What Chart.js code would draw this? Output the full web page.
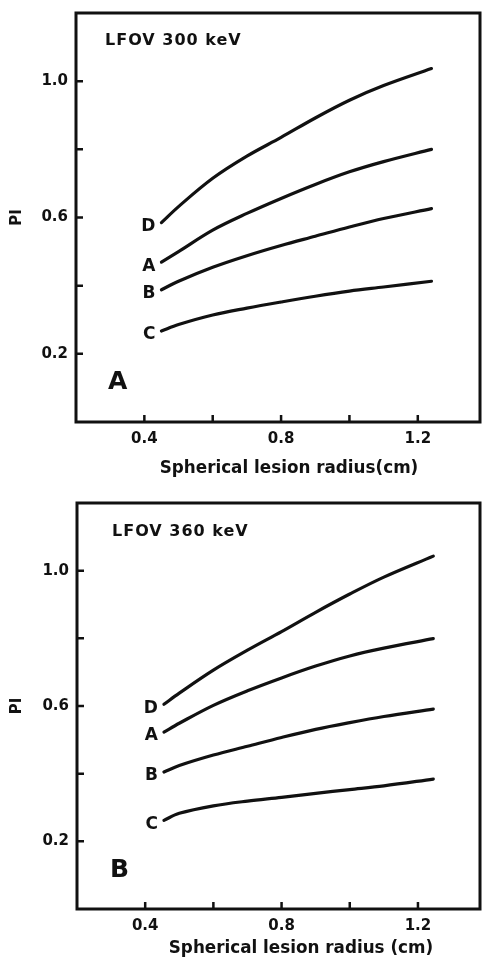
<!DOCTYPE html>
<html>
<head>
<meta charset="utf-8">
<script src="https://cdn.jsdelivr.net/npm/chart.js@4.4.0/dist/chart.umd.min.js"></script>
<style>
  html, body { margin: 0; padding: 0; background: #fff; overflow: hidden; }
  .panel { position: absolute; left: 0; width: 482px; }
  #top { top: 0; height: 481px; }
  #bottom { top: 481px; height: 482px; }
</style>
</head>
<body>
<div class="panel" id="top"><canvas id="chartA" width="482" height="481"></canvas></div>
<div class="panel" id="bottom"><canvas id="chartB" width="482" height="482"></canvas></div>
<script>
// panel A: LFOV 300 keV
const radius300 = [0.45, 0.5, 0.6, 0.7, 0.8, 0.9, 1.0, 1.1, 1.24];
const curveD300 = [0.585, 0.632, 0.715, 0.780, 0.835, 0.892, 0.944, 0.987, 1.037];
const curveA300 = [0.469, 0.500, 0.563, 0.612, 0.656, 0.697, 0.734, 0.764, 0.800];
const curveB300 = [0.388, 0.413, 0.454, 0.488, 0.518, 0.545, 0.572, 0.597, 0.626];
const curveC300 = [0.267, 0.286, 0.314, 0.334, 0.352, 0.369, 0.384, 0.396, 0.413];

// panel B: LFOV 360 keV
const radius360 = [0.455, 0.5, 0.6, 0.7, 0.8, 0.9, 1.0, 1.1, 1.245];
const curveD360 = [0.605, 0.638, 0.706, 0.765, 0.820, 0.877, 0.931, 0.981, 1.043];
const curveA360 = [0.523, 0.549, 0.602, 0.645, 0.683, 0.718, 0.748, 0.771, 0.799];
const curveB360 = [0.405, 0.424, 0.455, 0.481, 0.507, 0.531, 0.551, 0.569, 0.591];
const curveC360 = [0.262, 0.283, 0.305, 0.319, 0.330, 0.342, 0.353, 0.364, 0.384];

const curveNames = ["D", "A", "B", "C"];
const xTickValues = [0.4, 0.6, 0.8, 1.0, 1.2];
const xTickLabels = ["0.4", "0.8", "1.2"];
const yTickValues = [0.2, 0.4, 0.6, 0.8, 1.0];
const yTickLabels = ["0.2", "0.6", "1.0"];

const FONT = '"DejaVu Sans", sans-serif';
const INK = "#111";

const framePlugin = {
    id: "frame",
    afterDraw(chart, args, o) {
        const { ctx, chartArea: a, scales: { x, y } } = chart;
        ctx.save();
        ctx.strokeStyle = INK;
        ctx.lineWidth = 3;
        ctx.strokeRect(a.left, a.top, a.right - a.left, a.bottom - a.top);

        // inward tick marks
        ctx.lineWidth = 2.5;
        ctx.beginPath();
        x.ticks.forEach(t => {
            const px = x.getPixelForValue(t.value);
            ctx.moveTo(px, a.bottom);
            ctx.lineTo(px, a.bottom - 7);
        });
        y.ticks.forEach(t => {
            const py = y.getPixelForValue(t.value);
            ctx.moveTo(a.left, py);
            ctx.lineTo(a.left + 7, py);
        });
        ctx.stroke();

        ctx.fillStyle = INK;
        ctx.textBaseline = "middle";

        ctx.font = "bold 16px " + FONT;
        ctx.textAlign = "left";
        ctx.letterSpacing = "1px";
        ctx.fillText(o.title, a.left + o.titleDx, a.top + o.titleDy);
        ctx.letterSpacing = "0px";

        ctx.font = "bold 25px " + FONT;
        ctx.fillText(o.letter, a.left + o.letterDx, a.bottom + o.letterDy);

        ctx.font = "bold 16.8px " + FONT;
        ctx.textAlign = "center";
        ctx.fillText(o.xTitle, a.left + o.xTitleDx, a.bottom + o.xTitleDy);

        // curve names at the start of each curve
        ctx.font = "bold 17px " + FONT;
        ctx.textAlign = "right";
        chart.data.datasets.forEach((ds, i) => {
            const p = chart.getDatasetMeta(i).data[0];
            ctx.fillText(ds.label, p.x - 6, p.y + 4);
        });
        ctx.restore();
    }
};

function makeChart(id, radius, series, panel) {
    const datasets = series.map((vals, i) => ({
        label: curveNames[i],
        data: radius.map((r, j) => ({ x: r, y: vals[j] })),
        borderColor: INK,
        borderWidth: 3.2,
        borderCapStyle: "round",
        pointRadius: 0,
        fill: false,
        tension: 0.35
    }));

    return new Chart(document.getElementById(id), {
        type: "line",
        data: { datasets },
        plugins: [framePlugin],
        options: {
            responsive: false,
            animation: false,
            devicePixelRatio: 1,
            layout: { padding: { top: panel.top, right: 2, left: 0, bottom: 0 } },
            plugins: {
                legend: { display: false },
                tooltip: { enabled: false },
                frame: panel
            },
            scales: {
                x: {
                    type: "linear",
                    min: 0.2,
                    max: 1.382,
                    grid: { display: false, drawTicks: false },
                    border: { display: false },
                    afterBuildTicks: s => { s.ticks = xTickValues.map(v => ({ value: v })); },
                    afterFit: s => {
                        s.height = panel.height - panel.bottom;
                        s.paddingLeft = 0;
                        s.paddingRight = 0;
                    },
                    ticks: {
                        autoSkip: false,
                        maxRotation: 0,
                        padding: 8,
                        color: INK,
                        font: { family: FONT, size: 15, weight: "bold" },
                        callback: v => (xTickLabels.includes(v.toFixed(1)) ? v.toFixed(1) : "")
                    }
                },
                y: {
                    min: 0,
                    max: 1.2,
                    grid: { display: false, drawTicks: false },
                    border: { display: false },
                    afterBuildTicks: s => { s.ticks = yTickValues.map(v => ({ value: v })); },
                    afterFit: s => {
                        s.width = panel.left;
                        s.paddingTop = 0;
                        s.paddingBottom = 0;
                    },
                    title: {
                        display: true,
                        text: "PI",
                        color: INK,
                        padding: { top: 8, bottom: 0 },
                        font: { family: FONT, size: 15, weight: "bold" }
                    },
                    ticks: {
                        autoSkip: false,
                        padding: 8,
                        color: INK,
                        font: { family: FONT, size: 15, weight: "bold" },
                        callback: v => (yTickLabels.includes(v.toFixed(1)) ? v.toFixed(1) : "")
                    }
                }
            }
        }
    });
}

makeChart("chartA", radius300, [curveD300, curveA300, curveB300, curveC300], {
    title: "LFOV 300 keV", letter: "A",
    top: 13, left: 76, bottom: 422, height: 481,
    titleDx: 29, titleDy: 28, letterDx: 32, letterDy: -40,
    xTitle: "Spherical lesion radius(cm)", xTitleDx: 213, xTitleDy: 47
});

makeChart("chartB", radius360, [curveD360, curveA360, curveB360, curveC360], {
    title: "LFOV 360 keV", letter: "B",
    top: 22, left: 77, bottom: 428, height: 482,
    titleDx: 35, titleDy: 29, letterDx: 33, letterDy: -39,
    xTitle: "Spherical lesion radius (cm)", xTitleDx: 224, xTitleDy: 40
});
</script>
</body>
</html>
